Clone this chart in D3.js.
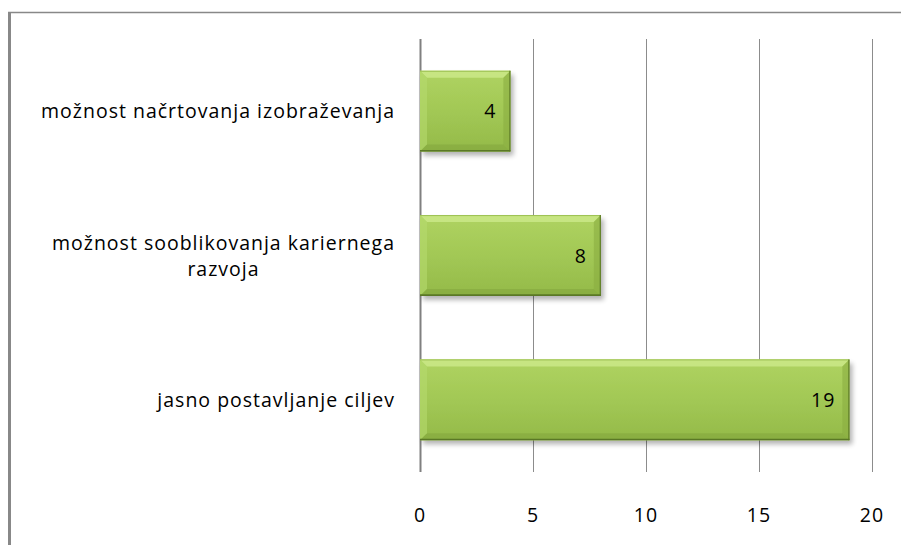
<!DOCTYPE html>
<html><head><meta charset="utf-8">
<script src="https://cdn.jsdelivr.net/npm/d3@7"></script>
<style>body{margin:0;background:#fff}svg{display:block}</style>
</head><body>
<svg id="c" width="901" height="545"></svg>
<script>
const categories = ["možnost načrtovanja izobraževanja", "možnost sooblikovanja kariernega razvoja", "jasno postavljanje ciljev"];
const labelLines = [["možnost načrtovanja izobraževanja"], ["možnost sooblikovanja kariernega", "razvoja"], ["jasno postavljanje ciljev"]];
const values = [4, 8, 19];
const ticks = [0, 5, 10, 15, 20];

const svg = d3.select("#c");
const FONT = "'Open Sans', sans-serif";
const FS = 19.5, LS = 1.0;

// frame
svg.append("line").attr("x1", 9.5).attr("x2", 9.5).attr("y1", 12).attr("y2", 545).attr("stroke", "#888").attr("stroke-width", 3);
svg.append("line").attr("x1", 8).attr("x2", 901).attr("y1", 12.5).attr("y2", 12.5).attr("stroke", "#888").attr("stroke-width", 1.5);

const x = d3.scaleLinear().domain([0, 20]).range([420, 872]);
const y = d3.scaleBand().domain(categories).range([39, 472]).paddingInner(0.44).paddingOuter(0.22);

// gridlines
svg.append("g").selectAll("line").data(ticks).join("line")
  .attr("x1", d => Math.round(x(d)) + 0.5).attr("x2", d => Math.round(x(d)) + 0.5)
  .attr("y1", 39).attr("y2", 472)
  .attr("stroke", d => d === 0 ? "#808080" : "#8c8c8c")
  .attr("stroke-width", d => d === 0 ? 2 : 1);

// defs
const defs = svg.append("defs");
const g1 = defs.append("linearGradient").attr("id", "barg").attr("x1", 0).attr("x2", 0).attr("y1", 0).attr("y2", 1);
g1.append("stop").attr("offset", "0").attr("stop-color", "#afd361");
g1.append("stop").attr("offset", "0.5").attr("stop-color", "#a2c855");
g1.append("stop").attr("offset", "1").attr("stop-color", "#94ba49");
const f = defs.append("filter").attr("id", "sh").attr("x", "-10%").attr("y", "-10%").attr("width", "130%").attr("height", "140%");
f.append("feGaussianBlur").attr("in", "SourceAlpha").attr("stdDeviation", 2.5);
f.append("feOffset").attr("dx", 3).attr("dy", 4).attr("result", "b");
f.append("feComponentTransfer").append("feFuncA").attr("type", "linear").attr("slope", 0.3);
const fm = f.append("feMerge"); fm.append("feMergeNode"); fm.append("feMergeNode").attr("in", "SourceGraphic");

const bars = svg.append("g").selectAll("g").data(values).join("g")
  .attr("transform", (d, i) => `translate(${x(0)},${y(categories[i])})`);

const bw = 7;
bars.each(function(d, i) {
  const g = d3.select(this);
  const w = x(d) - x(0), h = y.bandwidth();
  g.append("rect").attr("width", w).attr("height", h).attr("fill", "url(#barg)").attr("filter", "url(#sh)");
  // soft bevels
  g.append("path").attr("d", `M0,0 L${w},0 L${w - bw},${bw} L${bw},${bw} Z`).attr("fill", "#cfeb8e").attr("opacity", 0.75);
  g.append("path").attr("d", `M0,0 L${bw},${bw} L${bw},${h - bw} L0,${h} Z`).attr("fill", "#b6da6e").attr("opacity", 0.6);
  g.append("path").attr("d", `M${w},0 L${w},${h} L${w - bw},${h - bw} L${w - bw},${bw} Z`).attr("fill", "#8aad41").attr("opacity", 0.6);
  g.append("path").attr("d", `M0,${h} L${w},${h} L${w - bw},${h - bw} L${bw},${h - bw} Z`).attr("fill", "#84a63d").attr("opacity", 0.6);
  // edges
  g.append("line").attr("x1", 0).attr("x2", w).attr("y1", 0.5).attr("y2", 0.5).attr("stroke", "#9cc052");
  g.append("line").attr("x1", w - 0.5).attr("x2", w - 0.5).attr("y1", 0).attr("y2", h).attr("stroke", "#5f7d28").attr("stroke-width", 1.2);
  g.append("line").attr("x1", 0).attr("x2", w).attr("y1", h - 0.8).attr("y2", h - 0.8).attr("stroke", "#5a7826").attr("stroke-width", 1.6);
  g.append("text").attr("x", w - 14).attr("y", h / 2).attr("dy", "0.36em")
    .attr("text-anchor", "end").attr("font-family", FONT).attr("font-size", FS).attr("letter-spacing", LS).attr("fill", "#000").text(d);
});

// category labels
const lab = svg.append("g");
categories.forEach((c, i) => {
  const lines = labelLines[i];
  const cy = y(c) + y.bandwidth() / 2;
  const lh = 26;
  const t = lab.append("text").attr("font-family", FONT).attr("font-size", FS).attr("letter-spacing", LS).attr("fill", "#000");
  const tmp = lab.append("text").attr("font-family", FONT).attr("font-size", FS).attr("letter-spacing", LS);
  let maxW = 0;
  lines.forEach(l => { tmp.text(l); maxW = Math.max(maxW, tmp.node().getComputedTextLength()); });
  tmp.remove();
  const right = 395;
  const cx = right - maxW / 2;
  lines.forEach((l, k) => {
    t.append("tspan").attr("x", cx).attr("text-anchor", "middle")
      .attr("y", cy + (k - (lines.length - 1) / 2) * lh).attr("dy", "0.36em").text(l);
  });
});

// x tick labels
svg.append("g").selectAll("text").data(ticks).join("text")
  .attr("x", d => x(d)).attr("y", 515).attr("dy", "0.36em").attr("text-anchor", "middle")
  .attr("font-family", FONT).attr("font-size", FS).attr("letter-spacing", LS).attr("fill", "#000").text(d => d);
</script>
</body></html>
